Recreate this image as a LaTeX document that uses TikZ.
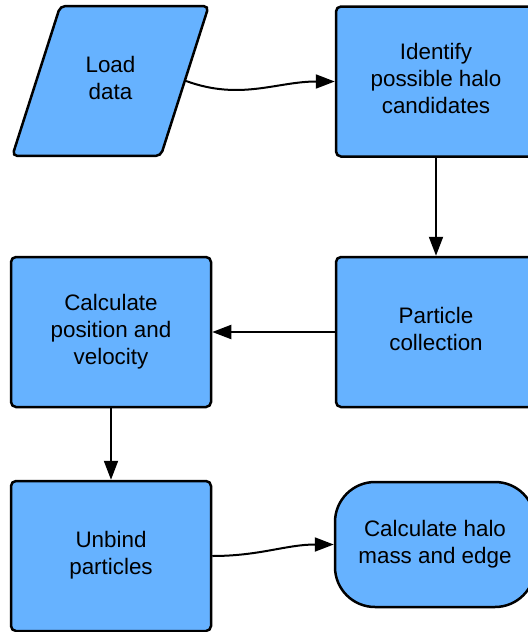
\documentclass[tikz,border=0pt]{standalone}
\usepackage{fontspec}
\setmainfont{Liberation Sans}
\usetikzlibrary{arrows.meta,shapes.geometric}
\definecolor{boxblue}{RGB}{102,178,255}

\begin{document}
\begin{tikzpicture}[x = 0.5pt, y = 0.5pt,
        every node/.style = {font = \fontsize{11.2}{13.5}\selectfont, align = center, text depth = 3pt},
        block/.style = {draw, line width = 1.25pt, fill = boxblue, rounded corners = 2.5pt,
                        minimum width = 100pt, minimum height = 75pt, inner sep = 0pt},
        io/.style = {block, trapezium, trapezium left angle = 81, trapezium right angle = 99,
                     trapezium stretches = true, minimum width = 98.5pt, minimum height = 0pt,
                     inner ysep = 25.15pt},
        term/.style = {block, rounded corners = 20pt, minimum height = 62.5pt},
        flow/.style = {line width = 1pt, -{Triangle[length = 9.5pt, width = 7pt]}}]
        \useasboundingbox (0,0) rectangle (528,-632);
        \node (load) [io] at (110.5,-81) {Load\\data};
        \node (ident) [block] at (436,-81.5) {Identify\\possible halo\\candidates};
        \node (collect) [block] at (436,-332) {Particle\\collection};
        \node (posvel) [block] at (111,-332) {Calculate\\position and\\velocity};
        \node (unbind) [block] at (111,-556) {Unbind\\particles};
        \node (halo) [term] at (435,-544.5) {Calculate halo\\mass and edge};
        \draw [flow] (load.east) to [out = -20, in = 180] (ident.west);
        \draw [flow] (ident) -- (collect);
        \draw [flow] (collect) -- (posvel);
        \draw [flow] (posvel) -- (unbind);
        \draw [flow] (unbind.east) to [out = 0, in = 180] (halo.west);
    \end{tikzpicture}
\end{document}
